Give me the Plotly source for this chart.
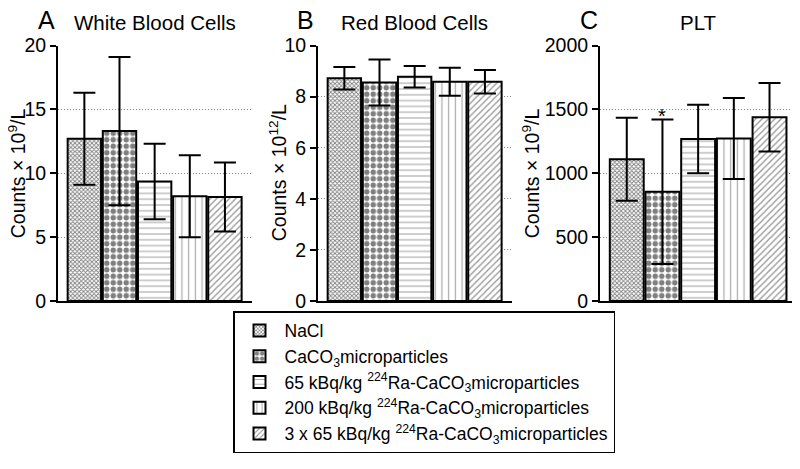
import plotly.graph_objects as go

groups = ["NaCl",
          "CaCO<sub>3</sub>microparticles",
          "65 kBq/kg <sup>224</sup>Ra-CaCO<sub>3</sub>microparticles",
          "200 kBq/kg <sup>224</sup>Ra-CaCO<sub>3</sub>microparticles",
          "3 x 65 kBq/kg <sup>224</sup>Ra-CaCO<sub>3</sub>microparticles"]

wbc_mean = [12.7, 13.3, 9.35, 8.2, 8.15]
wbc_sd = [3.6, 5.8, 2.95, 3.2, 2.7]
rbc_mean = [8.72, 8.55, 8.78, 8.58, 8.58]
rbc_sd = [0.44, 0.9, 0.42, 0.55, 0.46]
plt_mean = [1110, 855, 1268, 1272, 1438]
plt_sd = [325, 565, 268, 317, 268]

panel_titles = ["White Blood Cells", "Red Blood Cells", "PLT"]
panel_letters = ["A", "B", "C"]
y_titles = ["Counts × 10<sup>9</sup>/L", "Counts × 10<sup>12</sup>/L", "Counts × 10<sup>9</sup>/L"]
y_ranges = [[0, 20], [0, 10], [0, 2000]]
y_dtick = [5, 2, 500]

patterns = [dict(shape="x", size=3, solidity=0.5, fgcolor="black", bgcolor="white"),
            dict(shape=".", size=6.5, solidity=0.55, fgcolor="black", bgcolor="white"),
            dict(shape="-", size=5.8, solidity=0.2, fgcolor="#555", bgcolor="white"),
            dict(shape="|", size=6.7, solidity=0.18, fgcolor="#555", bgcolor="white"),
            dict(shape="/", size=4.5, solidity=0.3, fgcolor="#333", bgcolor="white")]

OFF = 8  # default page body margin
W, H = 800 - OFF, 469 - OFF


def px_x(p):
    return (p - OFF) / W


def px_y(p):
    return 1 - (p - OFF) / H


x_doms = [[px_x(58), px_x(252)], [px_x(318), px_x(512)], [px_x(600), px_x(797)]]
y_dom = [px_y(301), px_y(45.5)]

fig = go.Figure()
data = [(wbc_mean, wbc_sd), (rbc_mean, rbc_sd), (plt_mean, plt_sd)]
for p, (means, sds) in enumerate(data):
    xa = "x" if p == 0 else f"x{p+1}"
    ya = "y" if p == 0 else f"y{p+1}"
    for i, g in enumerate(groups):
        fig.add_trace(go.Bar(
            x=[i], y=[means[i]], width=0.95, name=g, legendgroup=g,
            showlegend=(p == 0),
            marker=dict(color="white", pattern=patterns[i],
                        line=dict(color="black", width=2)),
            error_y=dict(type="data", array=[sds[i]], visible=True,
                         color="black", thickness=2, width=11),
            xaxis=xa, yaxis=ya))

layout = dict(
    width=W, height=H, barmode="overlay",
    plot_bgcolor="white", paper_bgcolor="white",
    margin=dict(l=0, r=0, t=0, b=0, autoexpand=False),
    font=dict(family="Arial, Liberation Sans, sans-serif", color="black", size=17.5),
    legend=dict(x=px_x(233), y=px_y(311), xanchor="left", yanchor="top",
                bordercolor="black", borderwidth=1.5, font=dict(size=17.5),
                bgcolor="white", tracegroupgap=0, itemwidth=40),
    annotations=[],
)
for p in range(3):
    sx = "" if p == 0 else str(p + 1)
    layout[f"xaxis{sx}"] = dict(domain=x_doms[p], range=[-0.75, 4.77], showticklabels=False,
                                showgrid=False, zeroline=False, showline=True,
                                linecolor="black", linewidth=2, ticks="",
                                anchor=f"y{sx}", fixedrange=True)
    layout[f"yaxis{sx}"] = dict(domain=y_dom, range=y_ranges[p], dtick=y_dtick[p],
                                showgrid=True, gridcolor="#888", griddash="1px,2px", gridwidth=1,
                                zeroline=False, showline=True, linecolor="black", linewidth=2,
                                ticks="outside", ticklen=6, tickwidth=2, tickcolor="black",
                                tickfont=dict(size=19.5), automargin=False,
                                anchor=f"x{sx}")
    cx = (x_doms[p][0] + x_doms[p][1]) / 2
    layout["annotations"].append(dict(text=panel_titles[p], x=cx, y=px_y(23), xref="paper",
                                      yref="paper", showarrow=False, font=dict(size=20.5),
                                      xanchor="center", yanchor="middle"))
    lx = [46, 305, 589][p]
    layout["annotations"].append(dict(text=panel_letters[p], x=px_x(lx), y=px_y(19.5), xref="paper",
                                      yref="paper", showarrow=False, font=dict(size=25),
                                      xanchor="center", yanchor="middle"))
    tx = [17, 278, 531][p]
    layout["annotations"].append(dict(text=y_titles[p], x=px_x(tx), y=(y_dom[0] + y_dom[1]) / 2,
                                      xref="paper", yref="paper", showarrow=False, textangle=-90,
                                      font=dict(size=19.5), xanchor="center", yanchor="middle"))

layout["annotations"].append(dict(text="*", x=1, y=plt_mean[1] + plt_sd[1], xref="x3", yref="y3",
                                  showarrow=False, font=dict(size=20), yanchor="bottom", yshift=-9))

fig.update_layout(**layout)
fig.write_html("out.html")
